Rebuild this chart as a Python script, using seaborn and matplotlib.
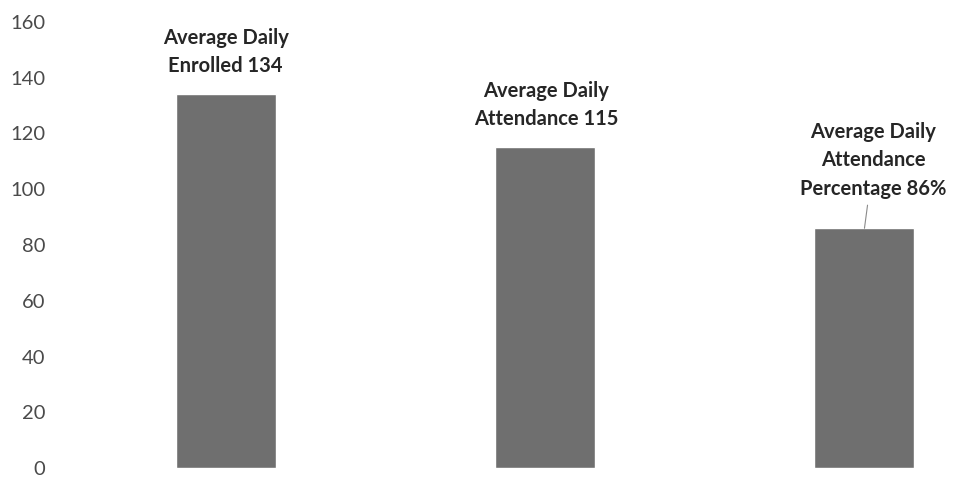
import matplotlib
matplotlib.use("Agg")
import matplotlib.pyplot as plt
import seaborn as sns
import pandas as pd

categories = ["Enrolled", "Attendance", "Percentage"]
values = [134, 115, 86]
labels = ["Average Daily\nEnrolled 134",
          "Average Daily\nAttendance 115",
          "Average Daily\nAttendance\nPercentage 86%"]
y_ticks = [0, 20, 40, 60, 80, 100, 120, 140, 160]

sns.set_style("white")
plt.rcParams['font.family'] = ['Lato', 'DejaVu Sans']

df = pd.DataFrame({"category": categories, "value": values})

fig = plt.figure(figsize=(9.59, 4.78), dpi=100)
ax = fig.add_axes([66 / 959, 10 / 478, 1 - 66 / 959, 446 / 478])

sns.barplot(data=df, x="category", y="value", color="#6f6f6f",
            width=0.313, saturation=1, ax=ax)

ax.set_xlim(-0.5, 2.296)
ax.set_ylim(0, 160)
ax.set_yticks(y_ticks)
ax.set_yticklabels([str(t) for t in y_ticks], fontsize=14.5, color="#4a4a4a")
ax.tick_params(axis="y", length=0, pad=15)
ax.set_xticks([])
ax.set_xlabel("")
ax.set_ylabel("")
sns.despine(ax=ax, left=True, bottom=True)

# data labels above the bars
offsets = [(0, 13), (1, 13), (6.5, 21)]
for i, (v, lab) in enumerate(zip(values, labels)):
    dx, dy = offsets[i]
    if i == 2:
        ax.annotate(lab, xy=(i, v), xytext=(dx, dy), textcoords="offset points",
                    ha="center", va="bottom", fontsize=14.5, fontweight="bold",
                    linespacing=1.55, annotation_clip=False,
                    arrowprops=dict(arrowstyle="-", color="#8a8a8a", lw=0.8,
                                    shrinkA=2, shrinkB=0))
    else:
        ax.annotate(lab, xy=(i, v), xytext=(dx, dy), textcoords="offset points",
                    ha="center", va="bottom", fontsize=14.5, fontweight="bold",
                    linespacing=1.55)

plt.savefig("out.png", dpi=100)
